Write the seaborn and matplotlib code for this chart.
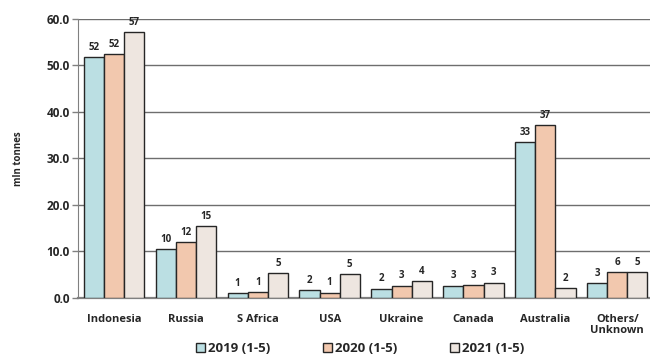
import numpy as np
import pandas as pd
import seaborn as sns
import matplotlib
matplotlib.use('Agg')
import matplotlib.pyplot as plt

# data (mln tonnes, Jan-May)
countries = ['Indonesia', 'Russia', 'S Africa', 'USA', 'Ukraine', 'Canada',
             'Australia', 'Others/\nUnknown']
years = ['2019 (1-5)', '2020 (1-5)', '2021 (1-5)']
v2019 = [51.7, 10.45, 1.0, 1.6, 1.95, 2.6, 33.4, 3.1]
v2020 = [52.4, 11.96, 1.23, 1.1, 2.6, 2.65, 37.2, 5.55]
v2021 = [57.1, 15.4, 5.2, 5.05, 3.6, 3.25, 2.1, 5.45]

df = pd.DataFrame({
    'Country': countries * 3,
    'Year': [y for y in years for _ in countries],
    'Value': v2019 + v2020 + v2021,
})

sns.set_style('white')
plt.rcParams['font.family'] = ['Open Sans', 'DejaVu Sans']

fig = plt.figure(figsize=(6.5, 3.56), dpi=100)
ax = fig.add_axes([0.12, 0.164, 0.885, 0.783])

palette = ['#BBDFE3', '#F2C8AE', '#EEE6E0']
sns.barplot(data=df, x='Country', y='Value', hue='Year', hue_order=years,
            palette=palette, saturation=1, width=0.84, edgecolor='#262626',
            linewidth=1.0, ax=ax, legend=True, zorder=3)

for cont in ax.containers:
    ax.bar_label(cont, fmt='%.0f', padding=3, fontsize=7, fontweight='bold')

ax.set_ylim(0, 60)
ax.set_xlim(-0.5, 7.5)
ax.set_yticks(np.arange(0, 61, 10))
ax.set_yticklabels(['%.1f' % t for t in np.arange(0, 61, 10)],
                   fontsize=8.5, fontweight='bold')
ax.set_xticks(range(len(countries)))
ax.set_xticklabels(countries, fontsize=8, fontweight='bold', linespacing=1.1)
ax.yaxis.grid(True, color='#6e6e6e', linewidth=1.0, zorder=0)
ax.set_axisbelow(True)
ax.tick_params(axis='y', left=True, length=4, color='#808080', width=1, pad=2)
ax.tick_params(axis='x', bottom=False, pad=8)
for s in ['top', 'right']:
    ax.spines[s].set_visible(False)
ax.spines['left'].set_color('#808080')
ax.spines['bottom'].set_color('#808080')
ax.spines['bottom'].set_linewidth(1.6)
ax.set_xlabel('')
ax.set_ylabel('mln tonnes', fontsize=7, fontweight='bold', labelpad=16)

handles, labels = ax.get_legend_handles_labels()
ax.legend(handles, labels, loc='lower center', bbox_to_anchor=(0.49, -0.25),
          ncol=3, frameon=False, handlelength=0.7, handleheight=0.7,
          handletextpad=0.2, columnspacing=4.0,
          prop={'size': 9.5, 'weight': 'bold'})

fig.savefig('out.png', dpi=100)
